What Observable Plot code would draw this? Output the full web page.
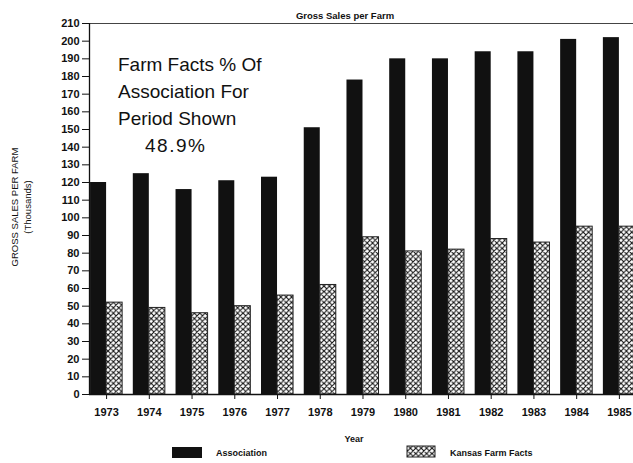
<!DOCTYPE html>
<html>
<head>
<meta charset="utf-8">
<script src="https://cdn.jsdelivr.net/npm/d3@7"></script>
<script src="https://cdn.jsdelivr.net/npm/@observablehq/plot@0.6"></script>
<style>
  html, body { margin: 0; padding: 0; background: #fff; }
  #chart { position: relative; width: 633px; height: 463px; overflow: hidden;
           font-family: "Liberation Sans", Arial, Helvetica, sans-serif; color: #111; }
  #chart > svg { position: absolute; left: 0; top: 0; }
  #overlay { pointer-events: none; }
</style>
</head>
<body>
<!-- cross-hatch fill shared by the Kansas Farm Facts bars and their legend swatch -->
<svg width="0" height="0" style="position:absolute">
  <defs>
    <pattern id="xhatch" patternUnits="userSpaceOnUse" width="5.4" height="5.4">
      <rect width="5.4" height="5.4" fill="#fff"></rect>
      <path d="M0,0L5.4,5.4M0,5.4L5.4,0M-1,1L1,-1M4.4,6.4L6.4,4.4M-1,4.4L1,6.4M4.4,-1L6.4,1"
            stroke="#111" stroke-width="1.1" fill="none"></path>
    </pattern>
  </defs>
</svg>
<div id="chart"></div>
<script>
// Gross sales per farm, thousands of dollars
const years = [1973, 1974, 1975, 1976, 1977, 1978, 1979, 1980, 1981, 1982, 1983, 1984, 1985];
const association = [120, 125, 116, 121, 123, 151, 178, 190, 190, 194, 194, 201, 202];
const kansasFarmFacts = [52, 49, 46, 50, 56, 62, 89, 81, 82, 88, 86, 95, 95];
const yTicks = d3.range(0, 211, 10);

const rows = years.map((year, i) => ({year, association: association[i], kansas: kansasFarmFacts[i]}));

// each bar takes this fraction of a year on the x axis
const BAR_W = 0.375;
const X_DOMAIN = [1972.6, 1985.33];

const plot = Plot.plot({
  width: 633,
  height: 430,
  marginLeft: 89,
  marginRight: 0,
  marginTop: 23,
  marginBottom: 36,
  style: {
    fontFamily: '"Liberation Sans", Arial, Helvetica, sans-serif',
    fontSize: "11px",
    fontWeight: "bold",
    color: "#111",
    background: "transparent"
  },
  x: {
    type: "linear",
    domain: X_DOMAIN,
    ticks: years,
    tickFormat: d => String(d),
    tickSize: 5,
    tickPadding: 9,
    label: null
  },
  y: {
    domain: [0, 210],
    ticks: yTicks,
    tickSize: 7,
    tickPadding: 3,
    label: null
  },
  marks: [
    Plot.rect(rows, {x1: d => d.year - BAR_W, x2: d => d.year, y1: 0, y2: "association", fill: "#111"}),
    Plot.rect(rows, {x1: d => d.year, x2: d => d.year + BAR_W, y1: 0, y2: "kansas",
                     fill: "url(#xhatch)", stroke: "#222", strokeWidth: 1}),
    Plot.ruleY([210], {stroke: "#444", strokeWidth: 1}),
    Plot.ruleY([0], {stroke: "#111", strokeWidth: 1.3}),
    Plot.ruleX([X_DOMAIN[0]], {stroke: "#111", strokeWidth: 1.3})
  ]
});
document.getElementById("chart").appendChild(plot);

// title, axis titles, note and legend
const W = 633, H = 463;
const svg = d3.select("#chart").append("svg")
  .attr("id", "overlay")
  .attr("width", W).attr("height", H)
  .style("font-family", '"Liberation Sans", Arial, Helvetica, sans-serif')
  .attr("fill", "#111");

svg.append("text")
  .attr("x", 345).attr("y", 19)
  .attr("text-anchor", "middle")
  .attr("font-size", 9.5).attr("font-weight", "bold")
  .text("Gross Sales per Farm");

svg.append("text")
  .attr("transform", "translate(18,207) rotate(-90)")
  .attr("text-anchor", "middle")
  .attr("font-size", 9.5)
  .text("GROSS SALES PER FARM");
svg.append("text")
  .attr("transform", "translate(30.5,207) rotate(-90)")
  .attr("text-anchor", "middle")
  .attr("font-size", 9.5)
  .text("(Thousands)");

const note = ["Farm Facts % Of", "Association For", "Period Shown"];
note.forEach((line, i) => {
  svg.append("text")
    .attr("x", 118).attr("y", 71 + i * 27)
    .attr("font-size", 19)
    .text(line);
});
svg.append("text")
  .attr("x", 145).attr("y", 152)
  .attr("font-size", 19)
  .attr("letter-spacing", 1.5)
  .text("48.9%");

svg.append("text")
  .attr("x", 354).attr("y", 442)
  .attr("text-anchor", "middle")
  .attr("font-size", 9).attr("font-weight", "bold")
  .text("Year");

svg.append("rect")
  .attr("x", 172).attr("y", 447).attr("width", 30).attr("height", 11)
  .attr("fill", "#111");
svg.append("text")
  .attr("x", 216).attr("y", 456)
  .attr("font-size", 9).attr("font-weight", "bold")
  .text("Association");

svg.append("rect")
  .attr("x", 407).attr("y", 446).attr("width", 28).attr("height", 11)
  .attr("fill", "url(#xhatch)").attr("stroke", "#222").attr("stroke-width", 1);
svg.append("text")
  .attr("x", 450).attr("y", 456)
  .attr("font-size", 9).attr("font-weight", "bold")
  .text("Kansas Farm Facts");
</script>
</body>
</html>
